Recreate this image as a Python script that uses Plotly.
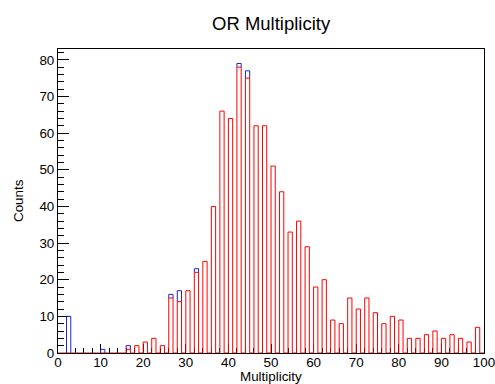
import numpy as np
import plotly.graph_objects as go

# Bin centres (only even multiplicities populated, bin width 1)
mult = list(range(0, 100, 2))
red_counts = [0, 0, 0, 0, 0, 0, 0, 0, 1, 2,
              3, 4, 2, 15, 14, 17, 22, 25, 40, 66,
              64, 78, 75, 62, 62, 51, 44, 33, 36, 29,
              18, 20, 9, 8, 15, 12, 15, 11, 8, 10,
              9, 4, 4, 5, 6, 4, 5, 4, 3, 7]
blue_counts = [0, 10, 0, 0, 0, 1, 0, 0, 2, 2,
               3, 4, 2, 16, 17, 17, 23, 25, 40, 66,
               64, 79, 77, 62, 62, 51, 44, 33, 36, 29,
               18, 20, 9, 8, 15, 12, 15, 11, 8, 10,
               9, 4, 4, 5, 6, 4, 5, 4, 3, 7]

title = "OR Multiplicity"
xtitle = "Multiplicity"
ytitle = "Counts"


def step(counts):
    arr = np.zeros(100)
    arr[np.array(mult)] = counts
    edges = np.arange(101)
    y = np.append(arr, arr[-1])
    return edges, y


def exposed(top, under):
    # parts of the 'top' histogram outline not hidden by the 'under' one
    xs, ys = [], []
    for m, t, u in zip(mult, top, under):
        if t != u:
            xs += [m, m, m + 1, m + 1, None]
            ys += [u, t, t, u, None]
    return xs, ys


fig = go.Figure()
bx, by = exposed(blue_counts, red_counts)
fig.add_trace(go.Scatter(x=bx, y=by, mode="lines",
                         line=dict(color="#2222cc", width=1), showlegend=False,
                         hoverinfo="skip"))
ex, ey = step(red_counts)
fig.add_trace(go.Scatter(x=ex, y=ey, mode="lines", line_shape="hv",
                         line=dict(color="#ff0000", width=1), showlegend=False,
                         hoverinfo="skip"))

font = "Liberation Sans, Arial, Helvetica, sans-serif"
fig.update_layout(
    template="none",
    width=495, height=384,
    margin=dict(l=58, r=11, t=49, b=31),
    paper_bgcolor="white", plot_bgcolor="white",
    font=dict(family=font, size=13, color="black"),
    xaxis=dict(range=[0, 100.0001], dtick=10, tick0=0, ticks="inside", ticklen=9,
               tickcolor="black", showgrid=False, zeroline=False,
               showline=True, linecolor="black", linewidth=1, mirror=True,
               layer="below traces", automargin=False,
               ticklabeloverflow="allow", ticklabelstandoff=-3,
               minor=dict(dtick=2, ticks="inside", ticklen=5, tickcolor="black",
                          showgrid=False),
               tickfont=dict(size=13.4)),
    yaxis=dict(range=[0, 82.95], dtick=10, tick0=0, ticks="inside", ticklen=11,
               tickcolor="black", showgrid=False, zeroline=False,
               showline=True, linecolor="black", linewidth=1, mirror=True,
               layer="below traces", automargin=False,
               minor=dict(dtick=2, ticks="inside", ticklen=6, tickcolor="black",
                          showgrid=False),
               tickfont=dict(size=13.4)),
    annotations=[
        dict(text=title, xref="paper", yref="paper", x=0.5, y=1, yshift=26,
             yanchor="middle", xanchor="center", showarrow=False,
             font=dict(size=18.5, family=font)),
        dict(text=xtitle, xref="paper", yref="paper", x=0.5, y=0, yshift=-23,
             yanchor="middle", xanchor="center", showarrow=False,
             font=dict(size=13.4, family=font)),
        dict(text=ytitle, xref="paper", yref="paper", x=0, y=0.5, xshift=-40,
             yanchor="middle", xanchor="center", showarrow=False, textangle=-90,
             font=dict(size=13.4, family=font)),
    ],
)

fig.write_html("out.html")
